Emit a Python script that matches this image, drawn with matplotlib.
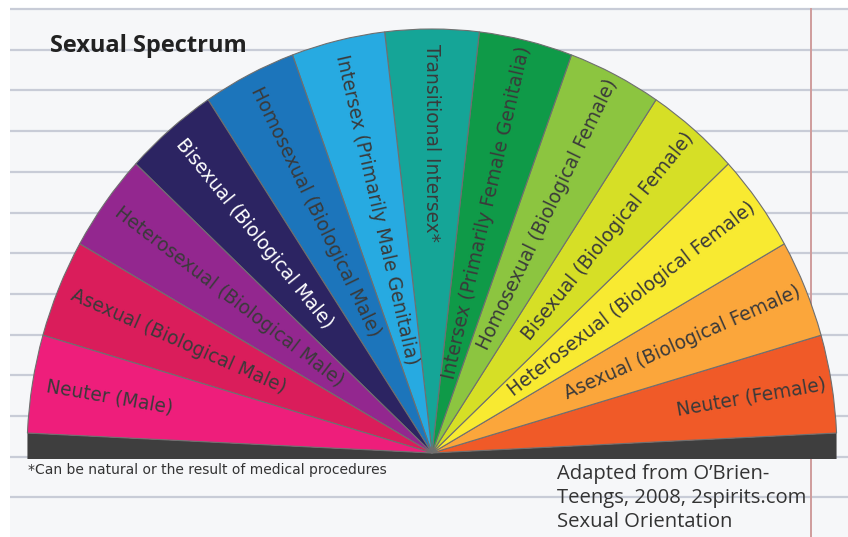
import numpy as np
import matplotlib
matplotlib.use("Agg")
import matplotlib.pyplot as plt
from matplotlib.patches import Wedge, Polygon, Rectangle

plt.rcParams['font.family'] = ['Open Sans', 'DejaVu Sans']

# ---------------- data ----------------
categories = [
    "Neuter (Female)",
    "Asexual (Biological Female)",
    "Heterosexual (Biological Female)",
    "Bisexual (Biological Female)",
    "Homosexual (Biological Female)",
    "Intersex (Primarily Female Genitalia)",
    "Transitional Intersex*",
    "Intersex (Primarily Male Genitalia)",
    "Homosexual (Biological Male)",
    "Bisexual (Biological Male)",
    "Heterosexual (Biological Male)",
    "Asexual (Biological Male)",
    "Neuter (Male)",
]
shares = [1, 1, 1, 1, 1, 1, 1, 1, 1, 1, 1, 1, 1]
colors = [
    "#f05a28", "#fba63b", "#f8ea31", "#d6df26", "#8cc540", "#0f9a48",
    "#15a597", "#27aae1", "#1c75bb", "#2c2462", "#93278f", "#da1d5b", "#ee1e7b",
]
text_colors = [
    "#3a3a3a", "#3a3a3a", "#3a3a3a", "#3a3a3a", "#3a3a3a", "#3a3a3a",
    "#3a3a3a", "#3a3a3a", "#3a3a3a", "#ffffff", "#3a3a3a", "#3a3a3a", "#3a3a3a",
]
title = "Sexual Spectrum"
footnote = "*Can be natural or the result of medical procedures"
source = "Adapted from O\u2019Brien-\nTeengs, 2008, 2spirits.com\nSexual Orientation"

# ---------------- figure ----------------
W, H = 848, 537
fig = plt.figure(figsize=(W / 100, H / 100), dpi=100)
fig.patch.set_facecolor("white")

bg = fig.add_axes([0, 0, 1, 1])
bg.set_xlim(0, W)
bg.set_ylim(H, 0)
bg.axis("off")
bg.add_patch(Rectangle((10, 9), W - 10, H - 9, facecolor="#f6f7f9", edgecolor="none"))
for y in np.arange(9, H + 2, 40.7):
    bg.plot([10, W], [y, y], color="#c8ccd7", lw=1.6, solid_capstyle="butt")
bg.plot([811, 811], [9, H], color="#cf9c9c", lw=1.4)

ax = fig.add_axes([0, 0, 1, 1])
ax.patch.set_alpha(0)
ax.axis("off")
cx, cy, rx, ry = 432, 453, 405, 424
ax.set_xlim(-cx / rx, (W - cx) / rx)
ax.set_ylim(-(H - cy) / ry, cy / ry)

a0 = 2.7
total = sum(shares)
scale = (180 - 2 * a0) / total
cum = np.concatenate([[0], np.cumsum(shares)])

# dark base under the fan
c, s = np.cos(np.radians(a0)), np.sin(np.radians(a0))
yb = -6 / ry
ax.add_patch(Polygon([(-c, s), (0, 0), (c, s), (c, yb), (-c, yb)],
                     closed=True, facecolor="#3e3e3e", edgecolor="none", zorder=2))

for i, (lab, col, tc) in enumerate(zip(categories, colors, text_colors)):
    t1 = a0 + cum[i] * scale
    t2 = a0 + cum[i + 1] * scale
    ax.add_patch(Wedge((0, 0), 1.0, t1, t2, facecolor=col, edgecolor="#6f6f6f",
                       lw=0.8, zorder=3))
    mid = (t1 + t2) / 2
    m = np.radians(mid)
    if mid < 85:
        r = 0.985
        rot, ha = mid, "right"
    else:
        r = 0.965
        rot, ha = mid - 180, "left"
    ax.text(r * np.cos(m), r * np.sin(m), lab, rotation=rot, ha=ha, va="center",
            rotation_mode="anchor", transform_rotates_text=True,
            fontsize=13.4, color=tc, zorder=5, family="DejaVu Sans")

bg.text(50, 46, title, fontsize=17, fontweight="bold", color="#222222", va="center")
bg.text(28, 470, footnote, fontsize=10, color="#333333", va="center",
        family="DejaVu Sans")
bg.text(557, 464, source, fontsize=14.6, color="#333333", va="top", linespacing=1.26)

fig.savefig("out.png", dpi=100)
